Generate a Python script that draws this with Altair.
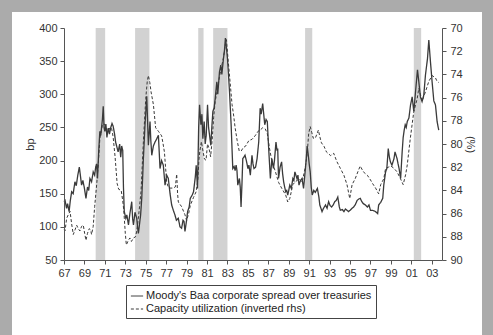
import altair as alt
import pandas as pd

# Moody's Baa corporate spread over treasuries (bp), by decimal year
baa_year = [
    1967.0, 1967.1, 1967.25, 1967.35, 1967.5, 1967.62, 1967.75, 1967.9, 1968.07, 1968.2,
    1968.35, 1968.5, 1968.6, 1968.72, 1968.85, 1969.0, 1969.15, 1969.3, 1969.42, 1969.54,
    1969.7, 1969.86, 1970.0, 1970.1, 1970.19, 1970.28, 1970.4, 1970.51, 1970.6, 1970.67,
    1970.76, 1970.84, 1970.92, 1971.0, 1971.1, 1971.2, 1971.33, 1971.45, 1971.58, 1971.7,
    1971.81, 1971.95, 1972.05, 1972.15, 1972.3, 1972.45, 1972.55, 1972.65, 1972.75, 1972.82,
    1972.9, 1973.05, 1973.15, 1973.31, 1973.45, 1973.63, 1973.72, 1973.8, 1973.95, 1974.12,
    1974.2, 1974.28, 1974.4, 1974.5, 1974.61, 1974.7, 1974.77, 1974.93, 1975.1, 1975.18,
    1975.26, 1975.42, 1975.5, 1975.59, 1975.75, 1975.91, 1976.05, 1976.24, 1976.4, 1976.55,
    1976.72, 1976.89, 1977.05, 1977.21, 1977.38, 1977.54, 1977.7, 1977.86, 1978.0, 1978.19,
    1978.35, 1978.51, 1978.65, 1978.75, 1978.84, 1979.0, 1979.1, 1979.25, 1979.36, 1979.55,
    1979.68, 1979.85, 1979.94, 1980.07, 1980.18, 1980.27, 1980.4, 1980.5, 1980.59, 1980.72,
    1980.82, 1980.92, 1981.05, 1981.15, 1981.25, 1981.37, 1981.47, 1981.57, 1981.7, 1981.8,
    1981.96, 1982.05, 1982.22, 1982.35, 1982.45, 1982.61, 1982.7, 1982.8, 1982.9, 1983.0,
    1983.1, 1983.2, 1983.36, 1983.52, 1983.65, 1983.75, 1983.85, 1983.93, 1984.01, 1984.17,
    1984.25, 1984.33, 1984.42, 1984.5, 1984.6, 1984.72, 1984.85, 1985.0, 1985.1, 1985.24,
    1985.4, 1985.5, 1985.6, 1985.75, 1985.9, 1986.06, 1986.2, 1986.3, 1986.45, 1986.55,
    1986.65, 1986.78, 1986.9, 1987.0, 1987.1, 1987.2, 1987.35, 1987.5, 1987.6, 1987.75,
    1987.85, 1987.92, 1988.0, 1988.15, 1988.3, 1988.4, 1988.5, 1988.6, 1988.7, 1988.8,
    1988.9, 1989.0, 1989.1, 1989.25, 1989.4, 1989.5, 1989.6, 1989.7, 1989.8, 1989.9,
    1990.0, 1990.15, 1990.3, 1990.45, 1990.6, 1990.7, 1990.8, 1990.9, 1991.0, 1991.1,
    1991.2, 1991.3, 1991.45, 1991.6, 1991.8, 1991.95, 1992.04, 1992.15, 1992.26, 1992.4,
    1992.6, 1992.75, 1992.9, 1993.05, 1993.2, 1993.35, 1993.5, 1993.65, 1993.8, 1993.95,
    1994.05, 1994.25, 1994.4, 1994.55, 1994.7, 1994.85, 1995.0, 1995.2, 1995.35, 1995.5,
    1995.7, 1995.85, 1996.0, 1996.15, 1996.3, 1996.5, 1996.7, 1996.85, 1997.0, 1997.2,
    1997.35, 1997.5, 1997.7, 1997.8, 1998.0, 1998.2, 1998.3, 1998.48, 1998.6, 1998.74,
    1998.85, 1998.95, 1999.1, 1999.2, 1999.3, 1999.4, 1999.5, 1999.6, 1999.7, 1999.8,
    1999.95, 2000.1, 2000.2, 2000.3, 2000.4, 2000.5, 2000.6, 2000.76, 2000.92, 2001.08,
    2001.24, 2001.41, 2001.6, 2001.73, 2001.89, 2002.05, 2002.22, 2002.38, 2002.58, 2002.71,
    2002.87, 2003.03, 2003.2, 2003.36, 2003.52, 2003.68,
]
baa_bp = [
    138, 140, 128, 135, 123, 140, 153, 150, 168, 162,
    178, 190, 178, 163, 170, 158, 143, 160, 155, 173,
    168, 183, 178, 190, 195, 173, 215, 244, 238, 249,
    262, 282, 250, 244, 255, 235, 249, 240, 250, 256,
    252, 240, 228, 222, 213, 225, 205, 222, 215, 160,
    123, 113, 118, 103, 120, 138, 112, 103, 122, 113,
    100, 90, 105, 118, 143, 175, 203, 254, 297, 260,
    223, 259, 230, 208, 222, 228, 232, 238, 188, 200,
    193, 163, 178, 173, 150, 133, 125, 118, 110, 113,
    100, 98, 110, 108, 93, 110, 123, 130, 143, 148,
    153, 175, 193, 158, 250, 284, 254, 270, 233, 259,
    225, 238, 284, 250, 238, 223, 250, 274, 280, 294,
    319, 300, 334, 344, 330, 354, 365, 385, 370, 354,
    330, 304, 254, 188, 191, 185, 193, 185, 163, 173,
    160, 130, 165, 203, 205, 208, 200, 188, 193, 178,
    208, 195, 188, 190, 203, 228, 279, 270, 286, 270,
    254, 262, 259, 228, 200, 173, 203, 188, 200, 228,
    215, 218, 173, 190, 198, 180, 168, 160, 153, 155,
    148, 155, 163, 158, 173, 170, 183, 178, 173, 178,
    163, 170, 173, 158, 183, 200, 222, 210, 195, 183,
    160, 148, 155, 152, 158, 145, 133, 128, 123, 128,
    133, 128, 138, 132, 130, 133, 138, 140, 145, 130,
    125, 126, 123, 127, 125, 123, 125, 128, 130, 133,
    140, 142, 143, 138, 135, 133, 130, 133, 125, 125,
    124, 123, 120, 133, 137, 143, 163, 183, 188, 218,
    205, 198, 193, 198, 203, 213, 208, 203, 195, 188,
    173, 213, 235, 246, 254, 250, 259, 264, 284, 296,
    274, 304, 337, 319, 296, 289, 299, 329, 354, 382,
    349, 319, 290, 284, 259, 246,
]

# Capacity utilization (%), plotted on an inverted right-hand axis
cu_year = [
    1967.0, 1967.1, 1967.26, 1967.42, 1967.59, 1967.75, 1967.91, 1968.08, 1968.24, 1968.4,
    1968.56, 1968.72, 1968.89, 1969.02, 1969.15, 1969.3, 1969.47, 1969.6, 1969.7, 1969.86,
    1970.0, 1970.2, 1970.35, 1970.51, 1970.65, 1970.77, 1971.0, 1971.15, 1971.33, 1971.5,
    1971.65, 1971.81, 1972.0, 1972.2, 1972.35, 1972.6, 1972.75, 1972.85, 1973.0, 1973.1,
    1973.3, 1973.45, 1973.6, 1973.8, 1974.0, 1974.12, 1974.28, 1974.54, 1974.77, 1975.0,
    1975.15, 1975.26, 1975.4, 1975.52, 1975.75, 1975.97, 1976.24, 1976.4, 1976.56, 1976.7,
    1976.83, 1977.05, 1977.2, 1977.38, 1977.7, 1977.9, 1978.03, 1978.12, 1978.19, 1978.51,
    1978.84, 1979.0, 1979.2, 1979.36, 1979.68, 1979.94, 1980.1, 1980.2, 1980.3, 1980.45,
    1980.6, 1980.75, 1980.9, 1981.05, 1981.2, 1981.35, 1981.5, 1981.65, 1981.8, 1982.0,
    1982.2, 1982.4, 1982.6, 1982.8, 1982.9, 1983.05, 1983.25, 1983.45, 1983.6, 1983.75,
    1983.95, 1984.15, 1984.35, 1984.55, 1984.76, 1985.1, 1985.4, 1985.7, 1986.0, 1986.2,
    1986.45, 1986.7, 1986.9, 1987.1, 1987.35, 1987.7, 1988.0, 1988.3, 1988.7, 1988.9,
    1989.1, 1989.4, 1989.6, 1990.0, 1990.3, 1990.6, 1990.8, 1990.95, 1991.1, 1991.25,
    1991.4, 1991.6, 1991.9, 1992.05, 1992.2, 1992.45, 1992.7, 1993.1, 1993.4, 1993.7,
    1994.05, 1994.4, 1994.7, 1994.97, 1995.2, 1995.5, 1995.85, 1996.0, 1996.3, 1996.7,
    1997.0, 1997.2, 1997.5, 1997.8, 1998.0, 1998.3, 1998.48, 1998.75, 1999.0, 1999.3,
    1999.6, 1999.94, 2000.2, 2000.45, 2000.6, 2000.9, 2001.24, 2001.57, 2001.73, 2002.05,
    2002.38, 2002.71, 2003.03, 2003.36, 2003.52, 2003.68,
]
cu_pct = [
    87.4, 87.5, 86.4, 86.1, 85.8, 86.9, 87.8, 87.4, 87.0, 87.3,
    87.5, 87.1, 87.0, 87.7, 88.3, 87.7, 87.3, 87.4, 87.8, 87.1,
    85.4, 83.5, 81.8, 79.5, 78.9, 78.3, 78.3, 78.7, 78.9, 78.6,
    78.6, 79.4, 81.1, 83.4, 83.9, 84.0, 84.9, 85.7, 87.7, 88.7,
    88.3, 88.1, 88.4, 88.1, 88.0, 87.5, 86.4, 84.1, 79.8, 76.1,
    74.6, 74.1, 74.7, 75.5, 76.6, 78.6, 78.9, 79.1, 79.3, 80.0,
    80.7, 83.3, 83.7, 83.8, 83.8, 83.7, 82.6, 84.3, 85.0, 85.4,
    86.1, 86.6, 86.0, 85.3, 84.6, 84.1, 83.1, 81.4, 80.6, 79.8,
    80.6, 81.3, 81.4, 80.0, 80.4, 81.1, 79.7, 77.7, 76.3, 75.4,
    74.3, 73.4, 72.6, 71.4, 71.0, 72.6, 74.6, 76.6, 77.5, 78.6,
    79.7, 80.6, 80.6, 80.3, 80.2, 79.7, 79.6, 79.3, 78.9, 78.8,
    78.6, 78.7, 79.1, 80.3, 81.5, 82.4, 83.3, 83.8, 84.4, 85.0,
    84.7, 83.5, 83.3, 83.0, 83.3, 82.1, 80.9, 79.1, 78.5, 79.0,
    79.5, 79.5, 78.8, 79.4, 79.9, 80.2, 80.7, 81.0, 80.8, 81.5,
    82.1, 82.7, 83.5, 84.7, 83.5, 83.0, 82.2, 81.9, 82.4, 82.7,
    83.1, 83.4, 83.8, 84.3, 83.5, 83.0, 82.1, 82.0, 81.9, 82.1,
    82.4, 83.0, 83.5, 82.6, 81.8, 79.5, 77.2, 76.1, 75.2, 76.3,
    75.5, 74.6, 74.1, 74.3, 74.6, 74.7,
]

# NBER recession bands
rec_start = [1970.1, 1973.96, 1980.14, 1981.6, 1990.6, 2001.24]
rec_end = [1971.03, 1975.36, 1980.66, 1983.0, 1991.3, 2001.96]

year_ticks = list(range(1967, 2004, 2))
bp_ticks = [50, 100, 150, 200, 250, 300, 350, 400]
cu_ticks = [70, 72, 74, 76, 78, 80, 82, 84, 86, 88, 90]
series_names = [
    "Moody's Baa corporate spread over treasuries",
    "Capacity utilization (inverted rhs)",
]

ink = "#3a3a3a"
axis_col = "#555555"
label_col = "#333333"

baa_df = pd.DataFrame({"year": baa_year, "bp": baa_bp, "series": series_names[0]})
cu_df = pd.DataFrame({"year": cu_year, "cu": cu_pct, "series": series_names[1]})
rec_df = pd.DataFrame({"start": rec_start, "end": rec_end})

x_scale = alt.Scale(domain=[1967, 2004], nice=False, zero=False)
x_axis = alt.Axis(
    values=year_ticks, labelExpr="substring(toString(datum.value), 2, 4)",
    title=None, grid=False, tickSize=4, labelPadding=3, zindex=1,
    domainColor=axis_col, tickColor=axis_col, labelColor=label_col,
    labelFontSize=11, labelFlush=False, labelOverlap=False,
)
x_enc = alt.X("year:Q", scale=x_scale, axis=x_axis)

bp_axis = alt.Axis(
    values=bp_ticks, title="bp", grid=False, tickSize=4, labelPadding=3,
    titlePadding=3, titleFontWeight="normal", titleFontSize=11,
    titleColor=label_col, zindex=1, domainColor=axis_col,
    tickColor=axis_col, labelColor=label_col, labelFontSize=11,
    labelOverlap=False, labelBound=False,
)
bp_scale = alt.Scale(domain=[50, 400], nice=False, zero=False)

dash = alt.StrokeDash(
    "series:N",
    scale=alt.Scale(domain=series_names, range=[[1, 0], [3, 2]]),
    legend=alt.Legend(
        title=None, orient="none", legendX=62, legendY=257, direction="vertical",
        strokeColor="#444444", fillColor="white", padding=4, rowPadding=1,
        labelFontSize=11, labelColor="#222222", labelOffset=2, labelLimit=0,
        symbolType="stroke", symbolSize=150, symbolStrokeWidth=1,
        symbolStrokeColor=ink, zindex=1,
    ),
)

# white panel behind the plot, axes and legend
panel = alt.Chart(pd.DataFrame({"k": [0]})).mark_rect(color="white").encode(
    x=alt.value(-52), x2=alt.value(418), y=alt.value(-16), y2=alt.value(307)
)

recessions = alt.Chart(rec_df).mark_rect(color="#d2d2d2").encode(
    x=alt.X("start:Q", scale=x_scale, axis=x_axis),
    x2="end:Q",
    y=alt.Y(datum=400, scale=bp_scale, axis=bp_axis),
    y2=alt.datum(50),
)

baa_line = alt.Chart(baa_df).mark_line(color=ink, strokeWidth=1.3).encode(
    x=x_enc,
    y=alt.Y("bp:Q", scale=bp_scale, axis=bp_axis),
    strokeDash=dash,
)

cu_line = alt.Chart(cu_df).mark_line(color=ink, strokeWidth=1).encode(
    x=x_enc,
    y=alt.Y(
        "cu:Q",
        scale=alt.Scale(domain=[70, 90], reverse=True, nice=False, zero=False),
        axis=alt.Axis(
            orient="right", values=cu_ticks, title="(%)", grid=False, tickSize=4,
            labelPadding=4, titlePadding=2, titleFontWeight="normal",
            titleFontSize=11, titleColor=label_col, zindex=1,
            domainColor=axis_col, tickColor=axis_col, labelColor=label_col,
            labelFontSize=11, labelOverlap=False, labelBound=False,
        ),
    ),
    strokeDash=dash,
)

left = alt.layer(panel, recessions, baa_line)

chart = (
    alt.layer(left, cu_line)
    .resolve_scale(y="independent")
    .properties(
        width=378, height=232, autosize="none",
        padding={"left": 64, "top": 28, "right": 51, "bottom": 75},
        background="#ababab",
    )
    .configure(font="Liberation Sans")
    .configure_axis(labelOverlap=False)
    .configure_view(stroke=None)
)

chart.save("out.html", embed_options={"renderer": "svg", "actions": False})
